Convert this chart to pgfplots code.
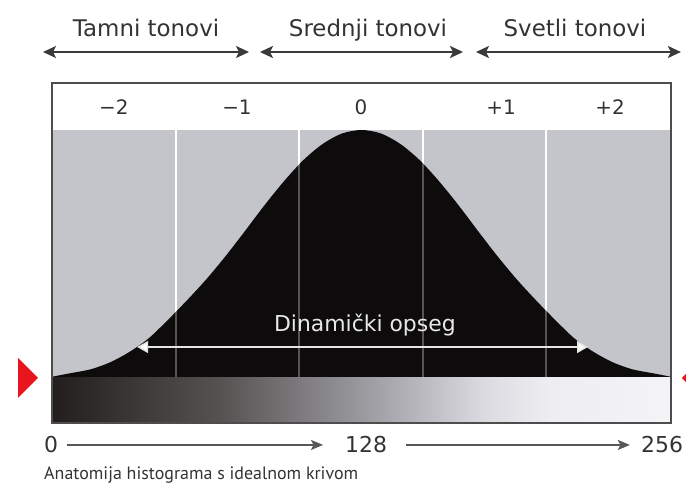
\documentclass[border=0pt]{standalone}
\usepackage{fontspec}
\setmainfont{DejaVu Sans}
\newfontfamily\capfont{PT Sans}
\usepackage{pgfplots}
\pgfplotsset{compat=1.18}
\usetikzlibrary{arrows.meta}

\definecolor{bggray}{HTML}{C3C5CB}
\definecolor{curveblack}{HTML}{0D0B0B}
\definecolor{txtgray}{HTML}{333333}
\definecolor{framegray}{HTML}{4D4D4D}
\definecolor{markred}{HTML}{E8141E}
\definecolor{arrgray}{HTML}{3A3A3A}
\definecolor{g0}{HTML}{221E1E}
\definecolor{g1}{HTML}{575353}
\definecolor{g2}{HTML}{A4A4AA}
\definecolor{g3}{HTML}{DADAE0}
\definecolor{g4}{HTML}{EEEEF2}
\definecolor{g5}{HTML}{F4F4F6}

% idealna kriva (x = nivo 0..256, y = relativna visina)
\pgfplotstableread{
x y
0 0.5
8 2.0
16 3.5
24 6.3
32 10.5
40 16.0
48 23.5
56 31.5
64 40.0
72 49.4
80 59.5
88 69.8
96 79.4
104 87.9
112 94.4
120 98.6
128 100
136 98.6
144 94.4
152 87.9
160 79.4
168 69.8
176 59.5
184 49.4
192 40.0
200 31.5
208 23.5
216 16.0
224 10.5
232 6.3
240 3.5
248 2.0
256 0.5
}\curvedata

\tikzset{
  vline/.style={white, line width=1.3bp},
  toplab/.style={anchor=base, text=txtgray, font=\fontsize{20}{22}\selectfont},
  tonlab/.style={anchor=base, text=txtgray, font=\fontsize{23}{26}\selectfont},
  botlab/.style={anchor=base, text=txtgray, font=\fontsize{22}{24}\selectfont},
  toparr/.style={arrgray, line width=2.2bp, {Stealth[length=13bp,width=12bp,inset=3bp]}-{Stealth[length=13bp,width=12bp,inset=3bp]}},
  botarr/.style={arrgray!85, line width=1.8bp, -{Stealth[length=12bp,width=10bp,inset=2.5bp]}},
}

\begin{document}
\begin{tikzpicture}
\useasboundingbox (-52bp,-62bp) rectangle (634bp,423bp);
\begin{axis}[
  at={(0,0)}, anchor=south west,
  scale only axis, width=619bp, height=340bp,
  xmin=0, xmax=256, ymin=-18.15, ymax=118.95,
  ticks=none, clip=false, axis on top,
  axis line style={draw=framegray, line width=1.8bp},
]
% pozadina
\fill[bggray] (axis cs:0,0) rectangle (axis cs:256,100);
\draw[vline] (axis cs:51.3,0) -- (axis cs:51.3,100);
\draw[vline] (axis cs:102.1,0) -- (axis cs:102.1,100);
\draw[vline] (axis cs:153.4,0) -- (axis cs:153.4,100);
\draw[vline] (axis cs:204.3,0) -- (axis cs:204.3,100);

\addplot[fill=curveblack, draw=none, smooth] table {\curvedata} \closedcycle;

\draw[vline, opacity=0.3] (axis cs:51.3,0) -- (axis cs:51.3,100);
\draw[vline, opacity=0.3] (axis cs:102.1,0) -- (axis cs:102.1,100);
\draw[vline, opacity=0.3] (axis cs:153.4,0) -- (axis cs:153.4,100);
\draw[vline, opacity=0.3] (axis cs:204.3,0) -- (axis cs:204.3,100);

% tonska skala
\shade[left color=g0, right color=g1] (axis cs:0,-18.15) rectangle (axis cs:70.8,0);
\shade[left color=g1, right color=g2] (axis cs:70.7,-18.15) rectangle (axis cs:137.1,0);
\shade[left color=g2, right color=g3] (axis cs:137,-18.15) rectangle (axis cs:178.1,0);
\shade[left color=g3, right color=g4] (axis cs:178,-18.15) rectangle (axis cs:206.1,0);
\shade[left color=g4, right color=g5] (axis cs:206,-18.15) rectangle (axis cs:256,0);

% dinamicki opseg
\draw[draw=white!80!gray, line width=1.6bp,
  {Triangle[length=11bp,width=12bp,fill=white]}-{Triangle[length=11bp,width=12bp,fill=white]}]
  (axis cs:35.2,12.5) -- (axis cs:221.7,12.5);
\node[text=white!82!gray, font=\fontsize{22}{24}\selectfont] at (axis cs:129.4,21.4) {Dinamički opseg};

% oznake -2 .. +2
\node[toplab] at (axis cs:25.6,106.05) {−2};
\node[toplab] at (axis cs:76.5,106.05) {−1};
\node[toplab] at (axis cs:127.8,106.05) {0};
\node[toplab] at (axis cs:185.7,106.05) {+1};
\node[toplab] at (axis cs:230.8,106.05) {+2};

% tonovi iznad
\node[tonlab] at (axis cs:38.9,137.5) {Tamni tonovi};
\node[tonlab] at (axis cs:130.7,137.5) {Srednji tonovi};
\node[tonlab] at (axis cs:216.3,137.5) {Svetli tonovi};
\draw[toparr] (axis cs:-3.72,131.45) -- (axis cs:81.47,131.45);
\draw[toparr] (axis cs:86.0,131.45) -- (axis cs:170.0,131.45);
\draw[toparr] (axis cs:175.35,131.45) -- (axis cs:260.1,131.45);

% crveni markeri
\fill[markred] (axis cs:-14.06,8.06) -- (axis cs:-5.79,0) -- (axis cs:-14.06,-8.06) -- cycle;
\fill[markred] (axis cs:268.8,8.06) -- (axis cs:260.5,0) -- (axis cs:268.8,-8.06) -- cycle;

% donja skala
\node[botlab] at (axis cs:-0.4,-30.24) {0};
\node[botlab] at (axis cs:129.9,-30.24) {128};
\node[botlab] at (axis cs:252.3,-30.24) {256};
\draw[botarr] (axis cs:6.2,-27) -- (axis cs:112.1,-27);
\draw[botarr] (axis cs:146.4,-27) -- (axis cs:239.0,-27);

\node[anchor=base west, inner sep=0pt, text=txtgray, font=\capfont\fontsize{18}{20}\selectfont] at (axis cs:-3.3,-41.1) {Anatomija histograma s idealnom krivom};
\end{axis}
\end{tikzpicture}
\end{document}
